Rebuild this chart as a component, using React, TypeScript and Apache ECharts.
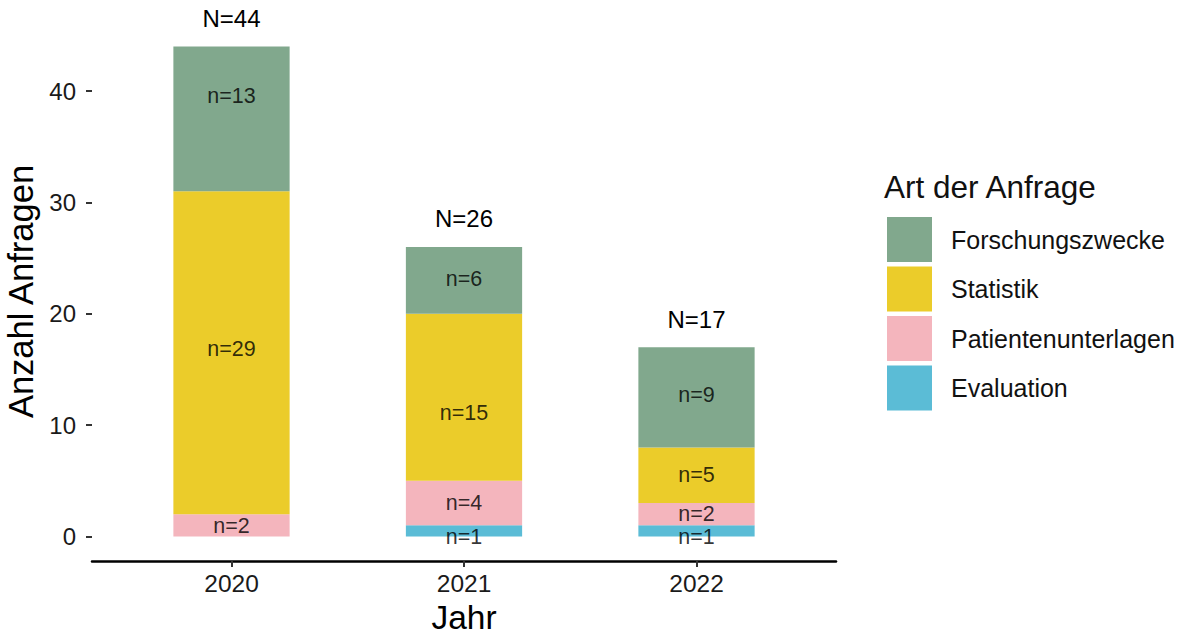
import React, { useEffect, useRef } from "react";
import * as echarts from "echarts";

const years = ["2020", "2021", "2022"];
const forschung = [13, 6, 9];
const statistik = [29, 15, 5];
const patienten = [2, 4, 2];
const evaluation = [0, 1, 1];

// where each count label sits on the value axis
const forschungLabelAt = [39.6, 23.1, 12.7];
const statistikLabelAt = [16.8, 11.1, 5.5];
const patientenLabelAt = [0.9, 3.0, 2.05];
const evaluationLabelAt = [0, 0, 0];

const yTicks = [0, 10, 20, 30, 40];
const Y_MIN = -2.2;
const Y_MAX = 46.2;

const FONT = "'Liberation Sans', Arial, sans-serif";

export default function App() {
  const ref = useRef<HTMLDivElement>(null);
  useEffect(() => {
    if (!ref.current) return;
    const chart = echarts.init(ref.current, null, { renderer: "svg" });
    const totals = years.map((_, i) => forschung[i] + statistik[i] + patienten[i] + evaluation[i]);

    const barSeries = (name: string, vals: number[], color: string, top = false) => ({
      type: "bar",
      name,
      stack: "total",
      xAxisIndex: 0,
      yAxisIndex: 0,
      barWidth: "50%",
      itemStyle: { color },
      data: vals,
      label: top
        ? {
            show: true,
            position: "top",
            distance: 16,
            fontFamily: FONT,
            fontSize: 24,
            color: "#000",
            formatter: (p: any) => "N=" + totals[p.dataIndex],
          }
        : { show: false },
      silent: true,
    });

    const labelSeries = (name: string, vals: number[], at: number[]) => ({
      type: "scatter",
      name,
      xAxisIndex: 0,
      yAxisIndex: 0,
      symbolSize: 0,
      silent: true,
      data: vals
        .map((v, i) => ({ value: [years[i], at[i]], n: v }))
        .filter((d) => d.n > 0),
      label: {
        show: true,
        position: "inside",
        fontFamily: FONT,
        fontSize: 21.5,
        color: "#000",
        formatter: (p: any) => "n=" + p.data.n,
      },
    });

    chart.setOption({
      animation: false,
      backgroundColor: "#ffffff",
      textStyle: { fontFamily: FONT },
      title: {
        text: "Art der Anfrage",
        left: 884,
        top: 171,
        padding: 0,
        textStyle: { fontFamily: FONT, fontSize: 31.5, fontWeight: "normal", color: "#111" },
      },
      legend: {
        orient: "vertical",
        left: 887,
        top: 217,
        padding: 0,
        itemWidth: 45,
        itemHeight: 45,
        itemGap: 4.5,
        icon: "rect",
        data: ["Forschungszwecke", "Statistik", "Patientenunterlagen", "Evaluation"],
        textStyle: { fontFamily: FONT, fontSize: 25, color: "#111", padding: [0, 0, 0, 14] },
        selectedMode: false,
      },
      grid: [
        { left: 115.25, width: 697.5, top: 22, bottom: 73, outerBoundsMode: "none", containLabel: false },
        { left: 92, right: 348, top: 22, bottom: 73, outerBoundsMode: "none", containLabel: false },
      ],
      xAxis: [
        {
          type: "category",
          gridIndex: 0,
          data: years,
          boundaryGap: true,
          axisLine: { show: false, onZero: false },
          axisTick: { show: true, alignWithLabel: true, length: 6, lineStyle: { color: "#333", width: 2 } },
          axisLabel: { margin: 10, fontFamily: FONT, fontSize: 24.5, color: "#1a1a1a" },
          splitLine: { show: false },
        },
        {
          type: "value",
          gridIndex: 1,
          min: 0,
          max: 1,
          name: "Jahr",
          nameLocation: "middle",
          nameGap: 39,
          nameTextStyle: { fontFamily: FONT, fontSize: 33.5, color: "#000" },
          axisLine: { show: true, onZero: false, lineStyle: { color: "#000", width: 2.5 } },
          axisTick: { show: false },
          axisLabel: { show: false },
          splitLine: { show: false },
        },
      ],
      yAxis: [
        {
          type: "value",
          gridIndex: 0,
          min: Y_MIN,
          max: Y_MAX,
          show: false,
          splitLine: { show: false },
        },
        {
          type: "value",
          gridIndex: 1,
          min: Y_MIN,
          max: Y_MAX,
          name: "Anzahl Anfragen",
          nameLocation: "middle",
          nameGap: 48,
          nameTextStyle: { fontFamily: FONT, fontSize: 34.5, color: "#000" },
          axisLine: { show: false },
          axisTick: { show: true, length: 6, customValues: yTicks, lineStyle: { color: "#333", width: 2 } },
          axisLabel: {
            customValues: yTicks,
            margin: 16,
            fontFamily: FONT,
            fontSize: 24,
            color: "#1a1a1a",
          },
          splitLine: { show: false },
        },
      ],
      series: [
        barSeries("Evaluation", evaluation, "#5BBCD6"),
        barSeries("Patientenunterlagen", patienten, "#F4B5BD"),
        barSeries("Statistik", statistik, "#EBCC2A"),
        barSeries("Forschungszwecke", forschung, "#81A88D", true),
        labelSeries("lab-ev", evaluation, evaluationLabelAt),
        labelSeries("lab-pa", patienten, patientenLabelAt),
        labelSeries("lab-st", statistik, statistikLabelAt),
        labelSeries("lab-fo", forschung, forschungLabelAt),
      ],
    });
    return () => chart.dispose();
  }, []);
  return (
    <div
      ref={ref}
      style={{ position: "fixed", left: 0, top: 0, width: 1184, height: 634, background: "#fff" }}
    />
  );
}
